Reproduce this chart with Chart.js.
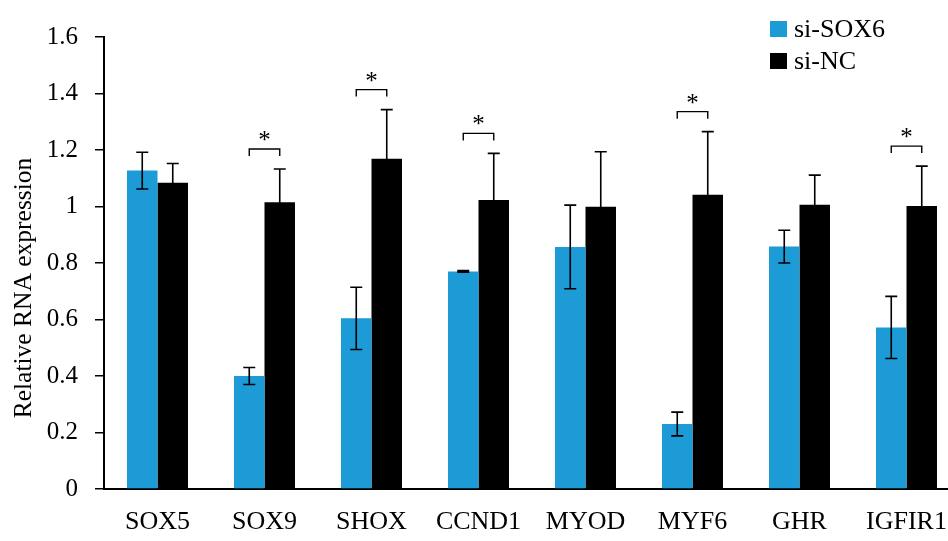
<!DOCTYPE html>
<html>
<head>
<meta charset="utf-8">
<script src="https://cdn.jsdelivr.net/npm/chart.js@4"></script>
<style>
  html, body { margin: 0; padding: 0; background: #fff; overflow: hidden; }
  /* the original plot runs a little past the right edge of the picture */
  #wrap { width: 960px; height: 541px; }
</style>
</head>
<body>
<div id="wrap"><canvas id="myChart"></canvas></div>
<script>
const genes = ['SOX5', 'SOX9', 'SHOX', 'CCND1', 'MYOD', 'MYF6', 'GHR', 'IGFIR1'];
const siSOX6 = [1.127, 0.400, 0.604, 0.770, 0.857, 0.230, 0.858, 0.572];
const siSOX6Err = [0.065, 0.030, 0.110, 0.003, 0.148, 0.042, 0.058, 0.110];
const siNC = [1.084, 1.015, 1.169, 1.023, 0.999, 1.042, 1.006, 1.002];
const siNCErr = [0.068, 0.118, 0.174, 0.165, 0.195, 0.223, 0.105, 0.141];
const significant = [false, true, true, true, false, true, false, true];
const yTicks = [0, 0.2, 0.4, 0.6, 0.8, 1, 1.2, 1.4, 1.6];
const yTitle = 'Relative RNA expression';

const FONT = '"Liberation Serif", "Times New Roman", serif';
Chart.defaults.color = '#000';
Chart.defaults.font.family = FONT;

// error bars + significance brackets
const extras = {
    id: 'extras',
    afterDatasetsDraw(chart) {
        const ctx = chart.ctx;
        const y = chart.scales.y;
        const errs = [siSOX6Err, siNCErr];
        ctx.save();
        ctx.strokeStyle = '#000';
        ctx.lineWidth = 1.6;
        chart.data.datasets.forEach((ds, di) => {
            const meta = chart.getDatasetMeta(di);
            meta.data.forEach((bar, i) => {
                const v = ds.data[i];
                const e = errs[di][i];
                const top = y.getPixelForValue(v + e);
                const bot = y.getPixelForValue(v - e);
                ctx.beginPath();
                ctx.moveTo(bar.x, top);
                ctx.lineTo(bar.x, bot);
                ctx.moveTo(bar.x - 6, top);
                ctx.lineTo(bar.x + 6, top);
                ctx.moveTo(bar.x - 6, bot);
                ctx.lineTo(bar.x + 6, bot);
                ctx.stroke();
            });
        });
        const m0 = chart.getDatasetMeta(0);
        const m1 = chart.getDatasetMeta(1);
        ctx.lineWidth = 1.4;
        ctx.fillStyle = '#000';
        ctx.font = '25px ' + FONT;
        ctx.textAlign = 'center';
        ctx.textBaseline = 'alphabetic';
        significant.forEach((s, i) => {
            if (!s) return;
            const hi = Math.max(siSOX6[i] + siSOX6Err[i], siNC[i] + siNCErr[i]);
            const by = y.getPixelForValue(hi) - 20;
            const x0 = m0.data[i].x, x1 = m1.data[i].x;
            ctx.beginPath();
            ctx.moveTo(x0, by + 7);
            ctx.lineTo(x0, by);
            ctx.lineTo(x1, by);
            ctx.lineTo(x1, by + 7);
            ctx.stroke();
            ctx.fillText('*', (x0 + x1) / 2, by - 1);
        });
        ctx.restore();
    },
    afterDraw(chart) {
        const ctx = chart.ctx;
        ctx.save();
        // y axis title
        ctx.fillStyle = '#000';
        ctx.font = '25.5px ' + FONT;
        ctx.translate(24, 288);
        ctx.rotate(-Math.PI / 2);
        ctx.textAlign = 'center';
        ctx.textBaseline = 'middle';
        ctx.fillText(yTitle, 0, 0);
        ctx.restore();
        // legend
        ctx.save();
        ctx.font = '26px ' + FONT;
        ctx.textAlign = 'left';
        ctx.textBaseline = 'alphabetic';
        chart.data.datasets.forEach((ds, di) => {
            const ty = 37 + di * 32;
            ctx.fillStyle = ds.backgroundColor;
            ctx.fillRect(770, ty - 16, 17, 16);
            ctx.fillStyle = '#000';
            ctx.fillText(ds.label, 794, ty);
        });
        ctx.restore();
    }
};

const ctx = document.getElementById('myChart').getContext('2d');

const myChart = new Chart(ctx, {
    type: 'bar',
    data: {
        labels: genes,
        datasets: [
            {
                label: 'si-SOX6',
                data: siSOX6,
                backgroundColor: '#1C9BD7'
            },
            {
                label: 'si-NC',
                data: siNC,
                backgroundColor: '#000000'
            }
        ]
    },
    options: {
        responsive: true,
        maintainAspectRatio: false,
        animation: false,
        layout: { padding: { top: 37, right: 0, left: 0, bottom: 0 } },
        categoryPercentage: 0.57,
        barPercentage: 1.0,
        plugins: {
            legend: { display: false },
            tooltip: { enabled: false }
        },
        scales: {
            x: {
                grid: { drawOnChartArea: false, drawTicks: false },
                border: { color: '#000', width: 2 },
                ticks: { font: { size: 26 }, padding: 18, maxRotation: 0 },
                afterFit(scale) {
                    scale.height = 52;
                    scale.paddingLeft = 0;
                    scale.paddingRight = 0;
                }
            },
            y: {
                min: 0,
                max: 1.6,
                afterBuildTicks(scale) {
                    scale.ticks = yTicks.map(v => ({ value: v }));
                },
                grid: { drawOnChartArea: false, tickLength: 9, tickColor: '#000', lineWidth: 1.5 },
                border: { color: '#000', width: 2 },
                ticks: {
                    font: { size: 25 },
                    padding: 17,
                    callback: (v) => String(v)
                },
                afterFit(scale) {
                    scale.width = 104;
                    scale.paddingTop = 0;
                    scale.paddingBottom = 0;
                }
            }
        }
    },
    plugins: [extras]
});
</script>
</body>
</html>
